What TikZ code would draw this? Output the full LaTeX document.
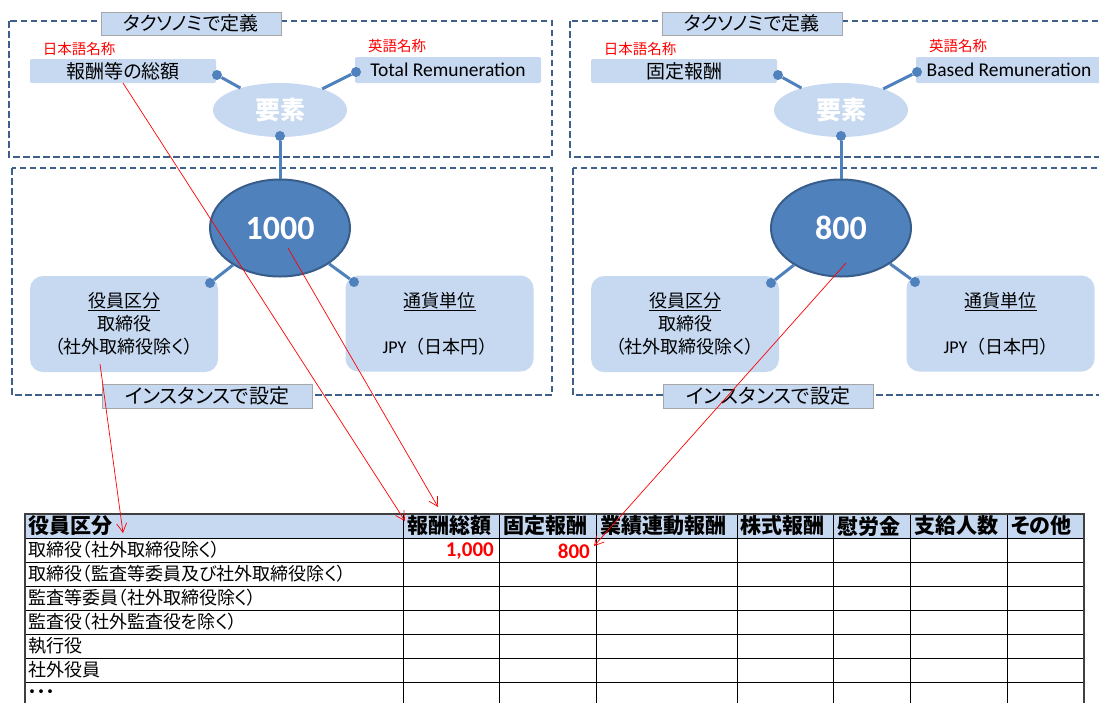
\documentclass[tikz,border=0pt]{standalone}
\usepackage{fontspec}
\setmainfont{Noto Sans CJK JP}[RawFeature={+palt}]
\newfontfamily\jpf{Noto Sans CJK JP}
\newfontfamily\lat{Carlito}
\usetikzlibrary{arrows.meta,shapes.geometric}
\definecolor{lblue}{HTML}{C6D9F1}
\definecolor{mblue}{HTML}{4F81BD}
\definecolor{dblue}{HTML}{385D8A}
\definecolor{dashc}{HTML}{3E5F8A}
\definecolor{tgray}{HTML}{A6A6A6}
\definecolor{gridc}{HTML}{404040}
\tikzset{
 dbox/.style={draw=dashc, line width=1.5pt, dash pattern=on 6.5pt off 3.5pt},
 ttl/.style={draw=tgray, fill=lblue, line width=0.8pt, minimum width=180pt, minimum height=23pt, inner sep=0pt, font=\fontsize{19}{19}\selectfont},
 namebox/.style={fill=lblue, rounded corners=2pt, minimum width=186pt, minimum height=24pt, inner sep=0pt, font=\fontsize{19}{19}\selectfont},
 elem/.style={ellipse, fill=lblue, minimum width=134pt, minimum height=54pt, inner sep=0pt, text=white, font=\bfseries\fontsize{25}{25}\selectfont},
 val/.style={ellipse, fill=mblue, draw=dblue, line width=2pt, minimum width=140pt, minimum height=97pt, inner sep=0pt, text=white, font=\lat\bfseries\fontsize{34}{34}\selectfont},
 attr/.style={fill=lblue, rounded corners=13pt, minimum width=188pt, minimum height=96pt, inner sep=0pt, align=center, font=\fontsize{18}{23}\selectfont},
 conn/.style={draw=mblue, line width=3pt},
 bluedot/.style={circle, fill=mblue, inner sep=0pt, minimum size=10pt},
 redtag/.style={text=red, font=\fontsize{14.5}{14.5}\selectfont, inner sep=0pt},
 redarr/.style={draw=red, line width=0.7pt, -{Straight Barb[length=9pt,width=10pt]}},
 thead/.style={anchor=west, inner sep=0pt, font=\bfseries\fontsize{21}{21}\selectfont},
 tbody/.style={anchor=west, inner sep=0pt, font=\fontsize{18}{18}\selectfont},
 tnum/.style={anchor=east, inner sep=0pt, text=red, font=\lat\bfseries\fontsize{21}{21}\selectfont},
}
\newcommand\mypanel[5]{%
\begin{scope}[xshift=#1pt]
 \draw[dbox] (9,21) rectangle (552,157);
 \draw[dbox] (12,168) rectangle (552,395);
 \node[ttl] (tt#2) at (191,23.5) {タクソノミで定義};
 \node[redtag] (jl#2) at (79,49) {日本語名称};
 \node[redtag] (gl#2) at (397,46) {英語名称};
 \node[namebox] (jn#2) at (123,71) {#3};
 \node[namebox, minimum height=26pt, font=\lat\fontsize{19.5}{19.5}\selectfont] (en#2) at (448,70) {#4};
 \node[elem] (ym#2) at (280,110) {要素};
 \node[val] (vl#2) at (280,228) {#5};
 \node[attr] (ka#2) at (124,324) {\underline{役員区分}\\取締役\\（社外取締役除く）};
 \node[attr] (kb#2) at (439.5,323.5) {\underline{通貨単位}\\[23pt]{\lat JPY}{\jpf（日本円）}};
 \node[bluedot] (da#2) at (217,75) {};
 \node[bluedot] (db#2) at (356,72) {};
 \node[bluedot] (dc#2) at (280,136) {};
 \node[bluedot] (dd#2) at (210,283) {};
 \node[bluedot] (de#2) at (354,282) {};
 \draw[conn] (da#2) -- (ym#2);
 \draw[conn] (db#2) -- (ym#2);
 \draw[conn] (dc#2) -- (vl#2);
 \draw[conn] (dd#2) -- (vl#2);
 \draw[conn] (de#2) -- (vl#2);
 \node[ttl, minimum width=210pt, minimum height=24pt, font=\fontsize{20}{20}\selectfont] (it#2) at (207,396) {インスタンスで設定};
\end{scope}}
\begin{document}
\begin{tikzpicture}[x=1pt,y=-1pt]
\useasboundingbox (0,0) rectangle (1099,702);
\clip (0,0) rectangle (1099,702);
\fill[white] (0,0) rectangle (1099,702);
\mypanel{0}{L}{報酬等の総額}{Total Remuneration}{1000}
\mypanel{561}{R}{固定報酬}{Based Remuneration}{800}
% table
\fill[lblue] (25,514) rectangle (1084,538);
\foreach \yy in {538,562,586,610,634,658,682}
  \draw[line width=1pt] (25,\yy) -- (1084,\yy);
\foreach \xx in {403,499,596,737,833,910,1007}
  \draw[line width=1pt] (\xx,514) -- (\xx,710);
\draw[line width=1.5pt, gridc] (25,710) -- (25,514) -- (1084,514) -- (1084,710);
\node[thead] (h0) at (28,526) {役員区分};
\node[thead] (h1) at (407,526) {報酬総額};
\node[thead] (h2) at (503,526) {固定報酬};
\node[thead] (h3) at (600,526) {業績連動報酬};
\node[thead] (h4) at (740,526) {株式報酬};
\node[thead] (h5) at (837,526) {慰労金};
\node[thead] (h6) at (914,526) {支給人数};
\node[thead] (h7) at (1011,526) {その他};
\node[tbody] (b1) at (28,550) {取締役（社外取締役除く）};
\node[tbody] (b2) at (28,574) {取締役（監査等委員及び社外取締役除く）};
\node[tbody] (b3) at (28,598) {監査等委員（社外取締役除く）};
\node[tbody] (b4) at (28,622) {監査役（社外監査役を除く）};
\node[tbody] (b5) at (28,646) {執行役};
\node[tbody] (b6) at (28,670) {社外役員};
\node[tbody] (b7) at (28,694) {・・・};
\node[tnum] (v1) at (494,551) {1,000};
\node[tnum] (v2) at (590,551) {800};
% red arrows
\coordinate (rs1) at (123,83);
\coordinate (re1) at (405,521);
\coordinate (rs2) at (288,248);
\coordinate (re2) at (438,507);
\coordinate (rs3) at (100,364);
\coordinate (re3) at (123,533);
\coordinate (rs4) at (846,263);
\coordinate (re4) at (594,546);
\draw[redarr] (rs1) -- (re1);
\draw[redarr] (rs2) -- (re2);
\draw[redarr] (rs3) -- (re3);
\draw[redarr] (rs4) -- (re4);
\end{tikzpicture}
\end{document}
